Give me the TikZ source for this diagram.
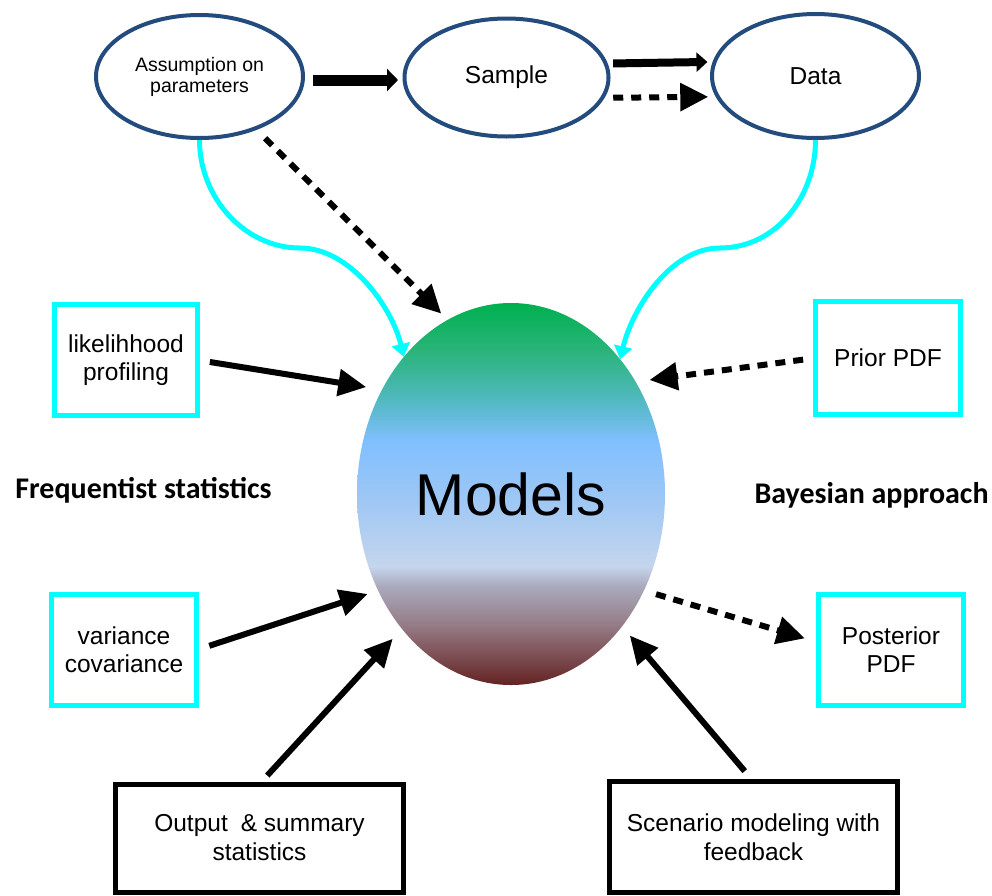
\documentclass[tikz,border=0pt]{standalone}
\usepackage{fontspec}
\setmainfont{Liberation Sans}
\newfontfamily\calfont{Carlito}
\usetikzlibrary{shapes.geometric,arrows.meta,calc}

\definecolor{ellblue}{RGB}{35,75,125}
\definecolor{cyanc}{RGB}{0,255,255}
\definecolor{mtop}{RGB}{0,176,80}
\definecolor{mA}{RGB}{40,180,120}
\definecolor{mB}{RGB}{80,185,190}
\definecolor{mC}{RGB}{128,191,255}
\definecolor{mD}{RGB}{155,198,245}
\definecolor{mE}{RGB}{197,213,236}
\definecolor{mF}{RGB}{170,170,190}
\definecolor{mG}{RGB}{150,125,135}
\definecolor{mbot}{RGB}{100,35,35}

\pgfdeclareverticalshading{modelshade}{100bp}{%
color(0bp)=(mbot); color(25bp)=(mbot); color(33bp)=(mG); color(38bp)=(mF);
color(40.5bp)=(mE); color(50bp)=(mD); color(57bp)=(mC); color(62.5bp)=(mB);
color(69bp)=(mA); color(75bp)=(mtop); color(100bp)=(mtop)}

\begin{document}
\begin{tikzpicture}[x=1pt,y=-1pt,
  oval/.style={ellipse, draw=ellblue, line width=4pt, inner sep=0pt, outer sep=0pt,
    font=\fontsize{24.5}{28}\selectfont, align=center},
  cbox/.style={rectangle, draw=cyanc, line width=5pt, minimum width=145pt,
    minimum height=111pt, inner sep=0pt, outer sep=0pt, align=center,
    font=\fontsize{24.5}{28}\selectfont},
  kbox/.style={rectangle, draw=black, line width=5pt, minimum width=288pt,
    minimum height=110pt, inner sep=0pt, outer sep=0pt, align=center,
    font=\fontsize{24.5}{29}\selectfont},
  sarr/.style={line width=6pt, -{Triangle[length=28pt,width=26pt]}},
  darr/.style={line width=6pt, dash pattern=on 10pt off 8pt, -{Triangle[length=28pt,width=27pt]}},
  carr/.style={draw=cyanc, line width=5pt, -{Triangle[length=13pt,width=18pt]}},
  lab/.style={font=\calfont\bfseries\fontsize{30}{34}\selectfont, anchor=base, inner sep=0pt}
]
\useasboundingbox (0,0) rectangle (992,895);

% models
\node[ellipse, shade, shading=modelshade, minimum width=308pt, minimum height=382pt,
  inner sep=0pt, outer sep=0pt, font=\fontsize{59}{64}\selectfont] (models) at (511,494) {Models};

% top ellipses
\node[oval, minimum width=207pt, minimum height=123pt, font=\fontsize{19.5}{21}\selectfont] (ass) at (199.5,76.5) {Assumption on\\parameters};
\node[oval, minimum width=204pt, minimum height=118pt] (sam) at (506.5,77.5) {Sample};
\node[oval, minimum width=207pt, minimum height=124pt] (dat) at (815.5,76) {Data};

% boxes
\node[cbox, minimum width=143pt] (lik) at (126,360) {likelihhood\\profiling};
\node[cbox] (var) at (124,650) {variance\\covariance};
\node[cbox, minimum height=113pt] (pri) at (888,358) {Prior PDF};
\node[cbox] (post) at (891,650) {Posterior\\PDF};
\node[kbox, minimum height=108pt] (out) at (259.5,838) {Output\hspace{13pt}\& summary\\statistics};
\node[kbox, minimum height=111pt] (scen) at (753.5,837) {Scenario modeling with\\feedback};

% labels
\node[lab] (freq) at (143.5,498) {Frequentist statistics};
\node[lab] (bayes) at (871.5,503) {Bayesian approach};

% top arrows
\draw[line width=11pt, -{Triangle[length=11pt,width=22pt]}, shorten <=10pt, shorten >=6.5pt]
  ([yshift=-3.5pt]ass.east) -- ([yshift=-2.5pt]sam.west);
\draw[line width=8pt, -{Triangle[length=11pt,width=19pt]}, shorten <=7.5pt, shorten >=7.3pt]
  (sam.8.3) -- (dat.172.7);
\draw[darr, shorten <=11pt, shorten >=9.7pt] (sam.-12.1) -- (dat.192.8);
\draw[darr, shorten <=14pt, shorten >=9pt] (ass.-43.2) -- (models.110.9);

% cyan curves
\coordinate (cm1) at (300,248);
\coordinate (cm2) at (720,248);
\draw[carr, shorten <=2pt] (ass.south) .. controls +(0,60) and +(-55,0) .. (cm1)
  .. controls +(50,0) and +(-12,-50) .. (models.128.1);
\draw[carr, shorten <=2pt] (dat.south) .. controls +(0,60) and +(55,0) .. (cm2)
  .. controls +(-50,0) and +(12,-50) .. (models.51.5);

% side arrows
\draw[sarr, shorten <=12.5pt, shorten >=16pt] (lik.east) -- (models.141.8);
\draw[sarr, shorten <=13.5pt, shorten >=11pt] (var.east) -- (models.216.4);
\draw[sarr, shorten <=11.5pt, shorten >=13.5pt] (out.north) -- (models.231.1);
\draw[sarr, shorten <=13.6pt, shorten >=11.9pt] (scen.north) -- (models.310.2);
\draw[darr, shorten <=12.5pt, shorten >=14pt] (pri.west) -- (models.42.4);
\draw[darr, shorten <=12.7pt, shorten >=14.2pt] (models.324.9) -- (post.174.8);
\end{tikzpicture}
\end{document}
